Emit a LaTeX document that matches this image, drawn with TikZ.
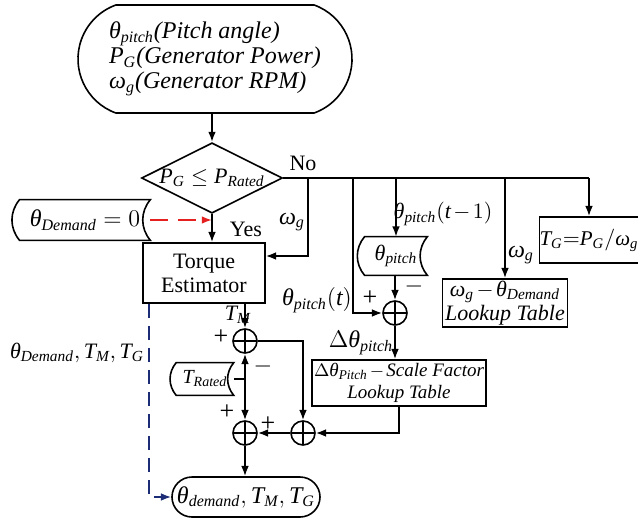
\documentclass[tikz,border=0pt]{standalone}
\usepackage{amsmath}
\usepackage{fontspec}
\setmainfont{Liberation Serif}
\usepackage{tikz}
\usetikzlibrary{arrows.meta, positioning, shapes.geometric, shapes.misc, calc}
\definecolor{flowred}{RGB}{228,32,32}
\definecolor{flowblue}{RGB}{28,44,118}
\newcommand{\vi}[1]{\textit{#1}}
\newcommand{\tminus}{\mkern-2mu-\mkern-2mu}

\begin{document}
\begin{tikzpicture}[
  x=0.5pt, y=-0.5pt,
  font=\fontsize{11}{12}\selectfont,
  box/.style={draw, thick, align=center, inner sep=1pt},
  term/.style={draw, thick, rounded rectangle, align=left, inner sep=2pt},
  dec/.style={draw, thick, diamond, aspect=2, inner sep=0pt},
  store/.style={align=center, inner xsep=3pt, inner ysep=1pt},
  sum/.style={draw, thick, circle, minimum size=12pt, inner sep=0pt,
    path picture={\draw[thick]
      (path picture bounding box.north) -- (path picture bounding box.south)
      (path picture bounding box.west) -- (path picture bounding box.east);}},
  a/.style={-{Latex[length=1.8mm]}, thick},
  ln/.style={thick},
  lbl/.style={inner sep=1pt},
  sgn/.style={inner sep=1pt, font=\fontsize{13}{13}\selectfont}
]
\useasboundingbox (0,0) rectangle (638,520);

% ---------- inputs and decision ----------
\node[term, rounded rectangle arc length=140, minimum width=141pt,
      minimum height=54pt, font=\fontsize{12}{12.5}\selectfont] (inp) at (215,59)
  {\vi{θ}$_{\vi{pitch}}$\vi{(Pitch angle)}\\
   \vi{P}$_{\vi{G}}$\vi{(Generator Power)}\\
   \vi{ω}$_{\vi{g}}$\vi{(Generator RPM)}};
\node[dec, minimum width=69.5pt, minimum height=35pt] (cmp) at (212,178)
  {$\vi{P}_{\vi{G}} \le \vi{P}_{\vi{Rated}}$};

\node[store, minimum width=65pt, minimum height=20pt,
      font=\fontsize{12}{13}\selectfont] (thd) at (85,220)
  {$\vi{θ}_{\vi{Demand}} = 0$};
\node[box, minimum width=61pt, minimum height=30pt] (te) at (204,273)
  {Torque\\Estimator};

% ---------- right hand branches ----------
\node[box, minimum width=45pt, minimum height=23pt, inner sep=0pt,
      font=\fontsize{10.5}{12}\selectfont] (tg) at (589,240)
  {$\vi{T}_{\vi{G}}{=}\vi{P}_{\vi{G}}/\vi{ω}_{\vi{g}}$};
\node[box, minimum width=62.5pt, minimum height=23.5pt] (lut) at (505,303)
  {$\vi{ω}_{\vi{g}}\tminus\vi{θ}_{\vi{Demand}}$\\\vi{Lookup Table}};
\node[store, minimum width=31pt, minimum height=19pt] (thp) at (396,256)
  {$\vi{θ}_{\vi{pitch}}$};
\node[sum] (s4) at (395,313) {};
\node[box, minimum width=82pt, minimum height=23pt,
      font=\fontsize{9.5}{11}\selectfont] (sft) at (399,383)
  {$\Delta\vi{θ}_{\vi{Pitch}}\tminus\vi{Scale Factor}$\\\vi{Lookup Table}};

% ---------- torque summation ----------
\node[sum] (s1) at (245,341) {};
\node[store, minimum width=28pt, minimum height=16pt,
      font=\fontsize{10}{11}\selectfont] (trd) at (205,379)
  {$\vi{T}_{\vi{Rated}}$};
\node[sum] (s3) at (245,433) {};
\node[sum] (s2) at (303,433) {};
\node[term, minimum width=76pt, minimum height=20pt, inner sep=1pt,
      font=\fontsize{12}{13}\selectfont] (fin) at (246,497)
  {$\vi{θ}_{\vi{demand}}, \vi{T}_{\vi{M}}, \vi{T}_{\vi{G}}$};

% stored data outlines
\foreach \n in {thd, trd, thp}
  {\draw[thick] (\n.north west) to[bend right=40] (\n.south west)
     -- (\n.south east) to[bend left=40] (\n.north east) -- cycle;}

\coordinate (jw) at (308,178);
\coordinate (jt) at (353,178);

% ---------- connectors ----------
\draw[a] (cmp.north |- inp.south) -- (cmp.north);
\draw[a] (cmp.south) -- (cmp.south |- te.north);
\draw[a, flowred, dashed, dash pattern=on 9pt off 5pt] (thd.east) -- (cmp.south |- thd.east);
\draw[ln] (cmp.east) -- (tg.north |- cmp.east);
\draw[a] (tg.north |- cmp.east) -- (tg.north);
\draw[a] (lut.north |- cmp.east) -- (lut.north);
\draw[a] (thp.north |- cmp.east) -- (thp.north);
\draw[a] (jw) |- ([yshift=8.5pt]te.east);
\draw[a] (jt) |- (s4.west);
\draw[a] (s4.north |- thp.south) -- (s4.north);
\draw[a] (s4.south) -- (s4.south |- sft.north);
\draw[a] (s1.north |- te.south) -- (s1.north);
\draw[ln] (trd.east) -- (s1 |- trd.east);
\draw[a] (s1 |- trd.east) -- (s1.south);
\draw[a] (s1 |- trd.east) -- (s3.north);
\draw[a] (s1.east) -| (s2.north);
\draw[a] (sft.south) |- (s2.east);
\draw[a] (s2.west) -- (s3.east);
\draw[a] (s3.south) -- (s3.south |- fin.north);
\draw[a, flowblue, dashed, dash pattern=on 7pt off 4pt] ([xshift=3.5pt]te.south west) |- (fin.west);

% ---------- labels ----------
\node[lbl] at (303,163) {No};
\node[lbl] at (246,229) {Yes};
\node[lbl, font=\fontsize{12}{13}\selectfont] at (292,222) {$\vi{ω}_{\vi{g}}$};
\node[lbl, font=\fontsize{12}{13}\selectfont] at (521,255) {$\vi{ω}_{\vi{g}}$};
\node[lbl] at (77,353) {$\vi{θ}_{\vi{Demand}}, \vi{T}_{\vi{M}}, \vi{T}_{\vi{G}}$};
\node[lbl] at (238,315) {$\vi{T}_{\vi{M}}$};
\node[sgn] at (221,337) {+};
\node[sgn] at (263,366) {$-$};
\node[sgn] at (227,412) {+};
\node[sgn] at (268,424) {+};
\node[lbl, font=\fontsize{12}{13}\selectfont] at (317,300) {$\vi{θ}_{\vi{pitch}}(\vi{t})$};
\node[sgn] at (370,298) {+};
\node[lbl] at (443,214) {$\vi{θ}_{\vi{pitch}}(\vi{t}\tminus1)$};
\node[sgn] at (414,286) {$-$};
\node[lbl, font=\fontsize{12}{13}\selectfont] at (361,343) {$\Delta\vi{θ}_{\vi{pitch}}$};

\end{tikzpicture}
\end{document}
